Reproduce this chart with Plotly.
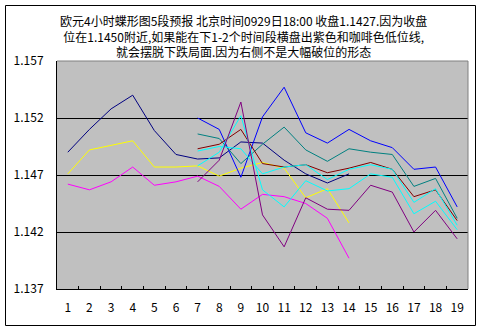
import plotly.graph_objects as go

# ---- data ----
categories = [str(i) for i in range(1, 20)]
x_early = categories[:14]      # 1..14
x_late = categories[6:]        # 7..19

navy_vals = [1.1490, 1.1510, 1.1528, 1.1540, 1.1509, 1.1488, 1.1484, 1.1485, 1.1499, 1.1498, 1.1483, 1.1471, 1.1463, 1.1471]
yellow_vals = [1.1471, 1.1492, 1.1496, 1.1500, 1.1477, 1.1477, 1.1478, 1.1469, 1.1476, 1.1481, 1.1476, 1.1450, 1.1458, 1.1428]
magenta_vals = [1.1462, 1.1457, 1.1464, 1.1477, 1.1461, 1.1464, 1.1469, 1.1460, 1.1440, 1.1453, 1.1451, 1.1445, 1.1432, 1.1397]

blue_vals = [1.1520, 1.1510, 1.1468, 1.1521, 1.1547, 1.1507, 1.1498, 1.1510, 1.1500, 1.1494, 1.1475, 1.1477, 1.1442]
teal_vals = [1.1506, 1.1502, 1.1480, 1.1497, 1.1512, 1.1492, 1.1482, 1.1493, 1.1490, 1.1488, 1.1460, 1.1467, 1.1432]
darkred_vals = [1.1493, 1.1497, 1.1510, 1.1480, 1.1477, 1.1479, 1.1472, 1.1476, 1.1481, 1.1475, 1.1451, 1.1457, 1.1430]
cyan1_vals = [1.1491, 1.1495, 1.1493, 1.1471, 1.1477, 1.1479, 1.1466, 1.1475, 1.1479, 1.1475, 1.1446, 1.1458, 1.1426]
cyan2_vals = [1.1478, 1.1490, 1.1522, 1.1457, 1.1442, 1.1465, 1.1456, 1.1458, 1.1471, 1.1468, 1.1436, 1.1447, 1.1422]
purple_vals = [1.1464, 1.1483, 1.1534, 1.1435, 1.1407, 1.1450, 1.1440, 1.1439, 1.1461, 1.1455, 1.1420, 1.1439, 1.1414]

y_ticks = [1.137, 1.142, 1.147, 1.152, 1.157]
title_text = ("欧元4小时蝶形图5段预报 北京时间0929日18:00 收盘1.1427.因为收盘<br>"
              "位在1.1450附近,如果能在下1-2个时间段横盘出紫色和咖啡色低位线,<br>"
              "就会摆脱下跌局面.因为右侧不是大幅破位的形态")

series = [
    (x_early, navy_vals, "#000080"),
    (x_early, yellow_vals, "#FFFF00"),
    (x_early, magenta_vals, "#FF00FF"),
    (x_late, blue_vals, "#0000FF"),
    (x_late, teal_vals, "#008080"),
    (x_late, darkred_vals, "#800000"),
    (x_late, cyan1_vals, "#00FFFF"),
    (x_late, cyan2_vals, "#00FFFF"),
    (x_late, purple_vals, "#800080"),
]

FONT = "Noto Sans CJK SC"

fig = go.Figure()
for xs, ys, col in series:
    fig.add_trace(go.Scatter(x=xs, y=ys, mode="lines",
                             line=dict(color=col, width=1), showlegend=False))

L, R, T, B = 57, 15, 61, 43
W, H = 483, 332
pw, ph = W - L - R, H - T - B

def px_x(p):
    return (p - L) / pw

def px_y(p):
    return (H - B - p) / ph

bx0, bx1, by0, by1 = px_x(5.5), px_x(475.5), px_y(325.5), px_y(5.5)
border = [
    (bx0, by0, bx1, by0), (bx0, by1, bx1, by1),
    (bx0, by0, bx0, by1), (bx1, by0, bx1, by1),
]
shapes = [
    dict(type="line", xref="paper", yref="paper", x0=0, x1=1, y0=1, y1=1,
         line=dict(color="#808080", width=1), layer="above"),
    dict(type="line", xref="paper", yref="paper", x0=1, x1=1, y0=0, y1=1,
         line=dict(color="#808080", width=1), layer="above"),
]
for a, b, c, d in border:
    shapes.append(dict(type="line", xref="paper", yref="paper", x0=a, y0=b, x1=c, y1=d,
                       line=dict(color="black", width=1), layer="above"))

fig.update_layout(
    width=W, height=H,
    margin=dict(l=L, r=R, t=T, b=B),
    paper_bgcolor="white",
    plot_bgcolor="#C0C0C0",
    font=dict(family=FONT, size=12, color="black"),
    showlegend=False,
    xaxis=dict(type="category", categoryorder="array", categoryarray=categories,
               range=[-0.5, 18.5], showgrid=False, zeroline=False,
               showline=True, linecolor="black", linewidth=1,
               ticks="inside", tickson="boundaries", ticklen=3, tickcolor="black",
               tickangle=0, ticklabelstandoff=8, tickfont=dict(size=12)),
    yaxis=dict(range=[1.137, 1.157], tickvals=y_ticks, tickformat=".3f",
               showgrid=True, gridcolor="black", gridwidth=1, zeroline=False,
               showline=True, linecolor="black", linewidth=1, ticks="",
               ticklabelstandoff=10, tickfont=dict(size=12)),
    shapes=shapes,
    annotations=[
        dict(text=title_text, xref="paper", yref="paper",
             x=px_x(243.5), y=px_y(10), xanchor="center", yanchor="top",
             showarrow=False, align="center",
             font=dict(family=FONT, size=12, color="black")),
    ],
)

fig.write_html("out.html")
